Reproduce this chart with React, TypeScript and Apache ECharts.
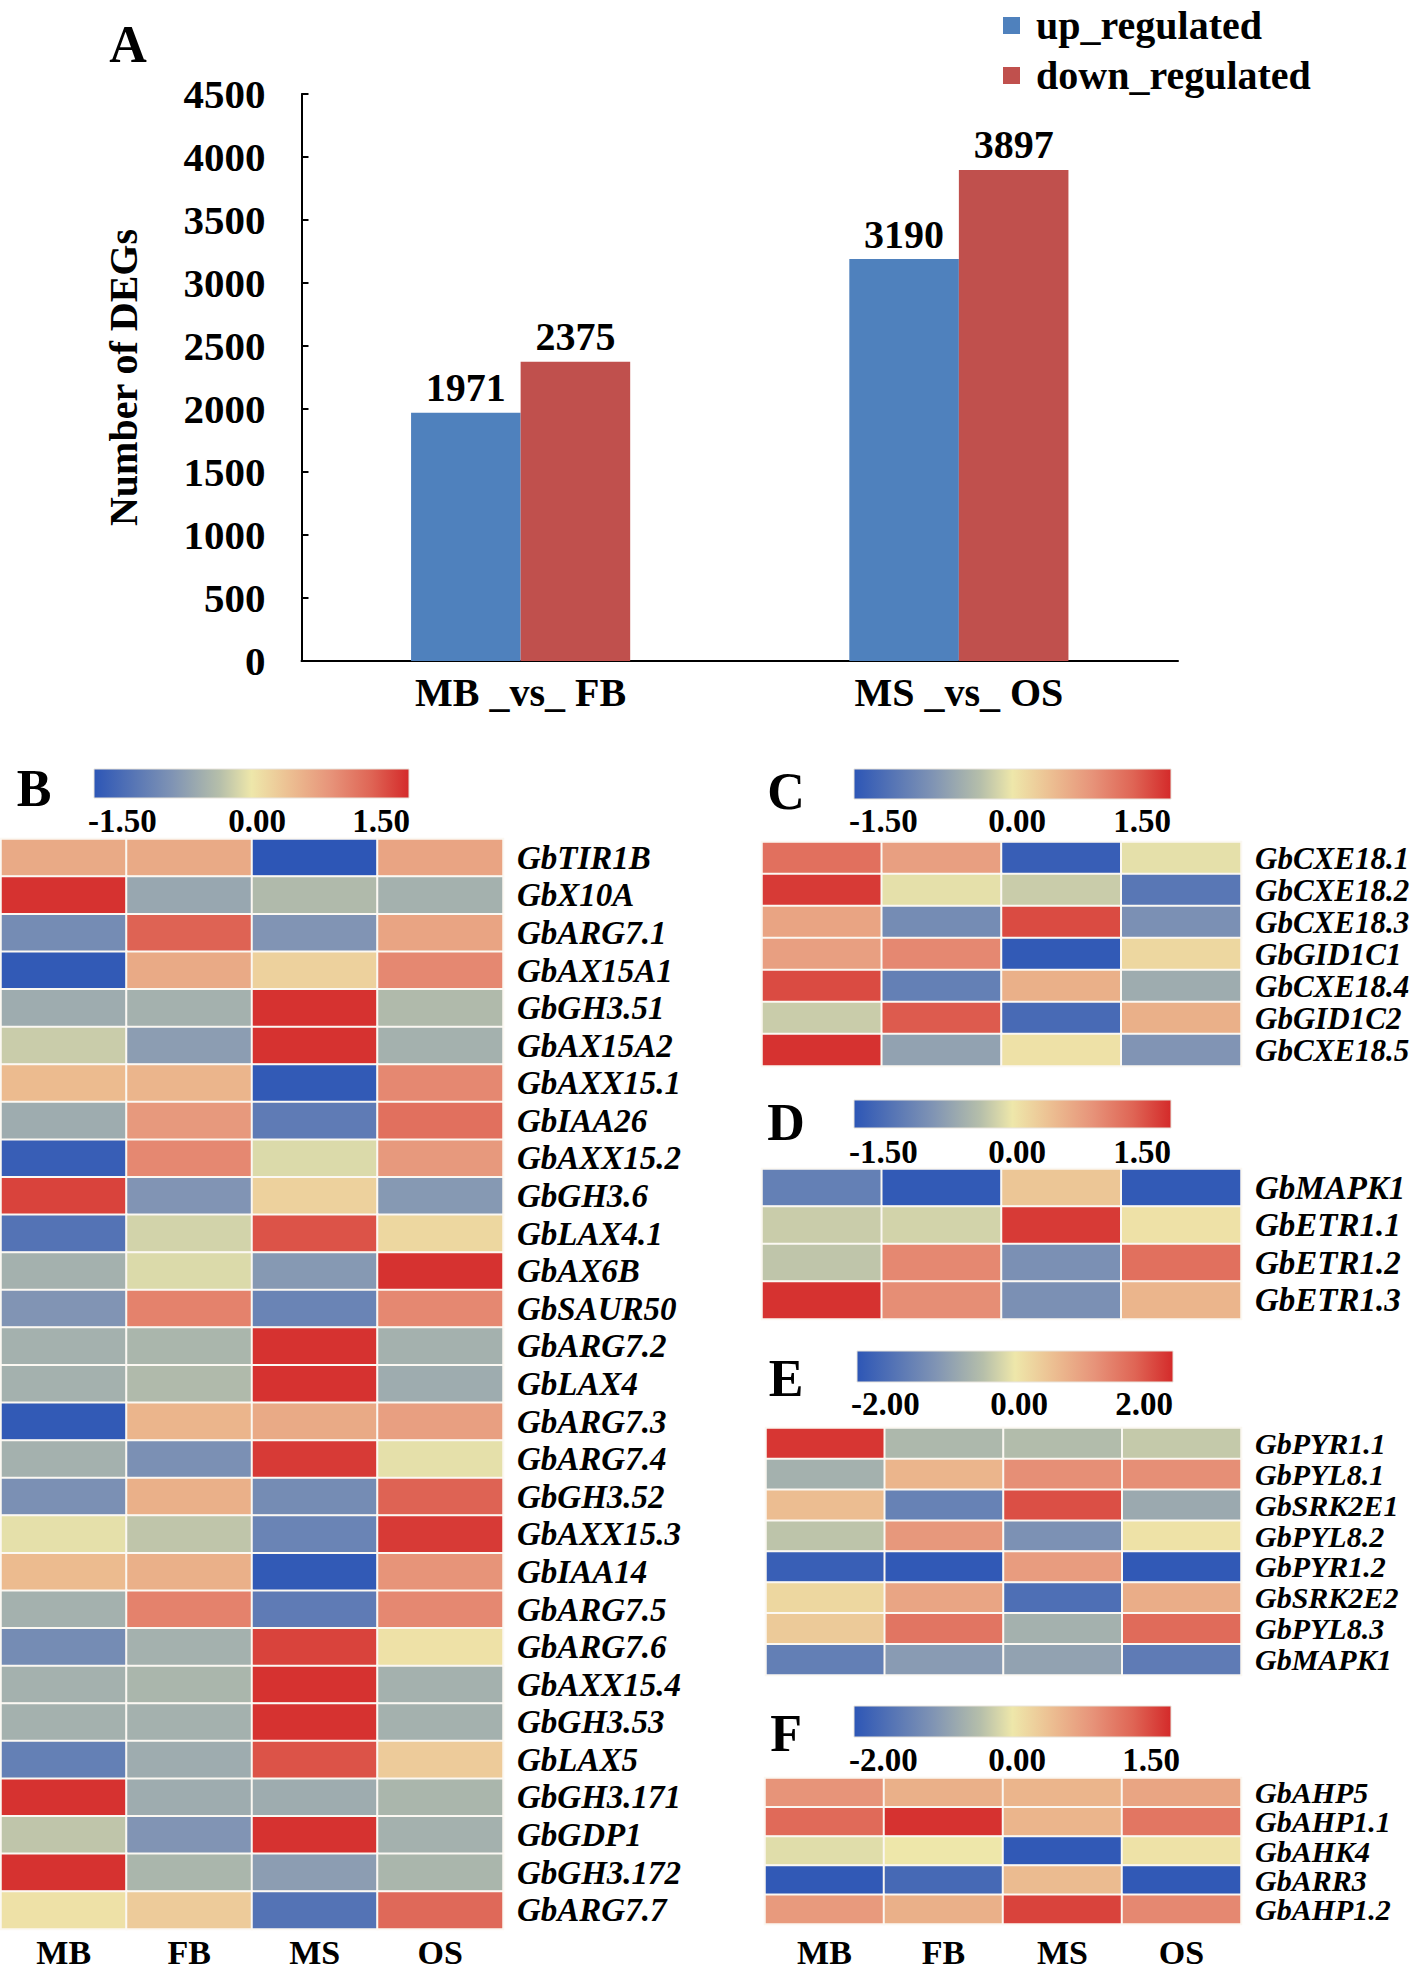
import React, { useEffect, useRef } from 'react';
import * as echarts from 'echarts';

// ---------- Panel A data ----------
const comparisons = ['MB _vs_ FB', 'MS _vs_ OS'];
const upRegulated = [1971, 3190];
const downRegulated = [2375, 3897];
const seriesNames = ['up_regulated', 'down_regulated'];
const seriesColors = ['#4F81BD', '#C0504D'];

// ---------- Heatmap data ----------
const samples = ['MB', 'FB', 'MS', 'OS'];

const genesB = [
  'GbTIR1B', 'GbX10A', 'GbARG7.1', 'GbAX15A1', 'GbGH3.51', 'GbAX15A2', 'GbAXX15.1', 'GbIAA26',
  'GbAXX15.2', 'GbGH3.6', 'GbLAX4.1', 'GbAX6B', 'GbSAUR50', 'GbARG7.2', 'GbLAX4', 'GbARG7.3',
  'GbARG7.4', 'GbGH3.52', 'GbAXX15.3', 'GbIAA14', 'GbARG7.5', 'GbARG7.6', 'GbAXX15.4', 'GbGH3.53',
  'GbLAX5', 'GbGH3.171', 'GbGDP1', 'GbGH3.172', 'GbARG7.7',
];
const valuesB = [
  [0.55, 0.55, -1.5, 0.6],
  [1.45, -0.55, -0.35, -0.45],
  [-0.85, 1.15, -0.75, 0.6],
  [-1.45, 0.55, 0.2, 0.85],
  [-0.5, -0.45, 1.45, -0.35],
  [-0.2, -0.65, 1.45, -0.45],
  [0.4, 0.45, -1.45, 0.85],
  [-0.5, 0.7, -1.05, 1.05],
  [-1.4, 0.85, -0.1, 0.7],
  [1.35, -0.75, 0.2, -0.7],
  [-1.15, -0.15, 1.25, 0.15],
  [-0.45, -0.1, -0.7, 1.45],
  [-0.75, 0.9, -0.95, 0.85],
  [-0.45, -0.4, 1.45, -0.45],
  [-0.45, -0.35, 1.45, -0.5],
  [-1.45, 0.45, 0.55, 0.65],
  [-0.45, -0.8, 1.4, -0.05],
  [-0.8, 0.5, -0.85, 1.15],
  [-0.05, -0.25, -0.95, 1.4],
  [0.4, 0.5, -1.45, 0.75],
  [-0.45, 0.9, -1.05, 0.85],
  [-0.85, -0.45, 1.35, 0.05],
  [-0.45, -0.4, 1.45, -0.45],
  [-0.45, -0.45, 1.45, -0.45],
  [-1.0, -0.5, 1.25, 0.25],
  [1.45, -0.5, -0.5, -0.4],
  [-0.25, -0.75, 1.45, -0.45],
  [1.45, -0.4, -0.65, -0.4],
  [0.05, 0.25, -1.15, 1.1],
];

const genesC = ['GbCXE18.1', 'GbCXE18.2', 'GbCXE18.3', 'GbGID1C1', 'GbCXE18.4', 'GbGID1C2', 'GbCXE18.5'];
const valuesC = [
  [1.05, 0.65, -1.4, -0.05],
  [1.4, -0.05, -0.2, -1.1],
  [0.6, -0.85, 1.3, -0.8],
  [0.65, 0.85, -1.45, 0.15],
  [1.3, -1.0, 0.5, -0.5],
  [-0.2, 1.2, -1.25, 0.5],
  [1.45, -0.6, 0.05, -0.75],
];

const genesD = ['GbMAPK1', 'GbETR1.1', 'GbETR1.2', 'GbETR1.3'];
const valuesD = [
  [-1.0, -1.45, 0.3, -1.45],
  [-0.2, -0.15, 1.4, 0.05],
  [-0.25, 0.85, -0.8, 1.05],
  [1.45, 0.8, -0.8, 0.45],
];

const genesE = ['GbPYR1.1', 'GbPYL8.1', 'GbSRK2E1', 'GbPYL8.2', 'GbPYR1.2', 'GbSRK2E2', 'GbPYL8.3', 'GbMAPK1'];
const valuesE = [
  [1.9, -0.5, -0.45, -0.3],
  [-0.6, 0.6, 1.05, 1.05],
  [0.5, -1.3, 1.7, -0.7],
  [-0.35, 0.95, -1.05, 0.05],
  [-1.85, -1.95, 0.9, -1.95],
  [0.2, 0.8, -1.6, 0.7],
  [0.35, 1.35, -0.6, 1.45],
  [-1.35, -0.9, -0.8, -1.4],
];

const genesF = ['GbAHP5', 'GbAHP1.1', 'GbAHK4', 'GbARR3', 'GbAHP1.2'];
const valuesF = [
  [0.75, 0.5, 0.45, 0.6],
  [1.1, 1.45, 0.45, 1.0],
  [-0.1, 0.0, -1.95, 0.05],
  [-1.95, -1.7, 0.4, -1.95],
  [0.7, 0.5, 1.35, 0.85],
];

// colour-bar tick labels per panel
const ticksB = ['-1.50', '0.00', '1.50'];
const ticksC = ['-1.50', '0.00', '1.50'];
const ticksD = ['-1.50', '0.00', '1.50'];
const ticksE = ['-2.00', '0.00', '2.00'];
const ticksF = ['-2.00', '0.00', '1.50'];

// ---------- colour ramp ----------
const RAMP: [number, string][] = [
  [0.0, '#2D56B6'],
  [0.25, '#8094B4'],
  [0.4, '#B6BFAA'],
  [0.5, '#EEE7AA'],
  [0.62, '#ECBF92'],
  [0.75, '#E7947A'],
  [0.88, '#DF6555'],
  [1.0, '#D42A2A'],
];

function hex2rgb(h: string) {
  return [parseInt(h.slice(1, 3), 16), parseInt(h.slice(3, 5), 16), parseInt(h.slice(5, 7), 16)];
}
function rampAt(t: number) {
  t = Math.max(0, Math.min(1, t));
  for (let i = 0; i < RAMP.length - 1; i++) {
    const [p0, c0] = RAMP[i];
    const [p1, c1] = RAMP[i + 1];
    if (t <= p1) {
      const f = (t - p0) / (p1 - p0);
      const a = hex2rgb(c0);
      const b = hex2rgb(c1);
      const m = a.map((v, k) => Math.round(v + (b[k] - v) * f));
      return `rgb(${m[0]},${m[1]},${m[2]})`;
    }
  }
  return RAMP[RAMP.length - 1][1];
}
function colorsFor(min: number, max: number) {
  const n = 36;
  const out: string[] = [];
  for (let i = 0; i < n; i++) {
    const v = min + ((max - min) * i) / (n - 1);
    const t = v < 0 ? 0.5 * (v - min) / (0 - min) : 0.5 + 0.5 * v / max;
    out.push(rampAt(t));
  }
  return out;
}

const SERIF = '"Liberation Serif", "Times New Roman", serif';

export default function App() {
  const ref = useRef<HTMLDivElement>(null);

  useEffect(() => {
    document.body.style.margin = '0';
    if (!ref.current) return;
    const chart = echarts.init(ref.current, undefined, { renderer: 'svg' });

    const panels = [
      { key: 'B', genes: genesB, values: valuesB, min: -1.5, max: 1.5, grid: { left: 1, top: 839, width: 502, height: 1096 }, showX: true, xMargin: 6, ticks: ticksB, geneFont: 33,
        bar: { x: 94, y: 769, w: 315, h: 29 }, tickY: 821, tickX: [88, 257, 410], letter: [34, 788] },
      { key: 'C', genes: genesC, values: valuesC, min: -1.5, max: 1.5, grid: { left: 762, top: 842, width: 479, height: 224 }, showX: false, xMargin: 4, ticks: ticksC, geneFont: 31,
        bar: { x: 854, y: 769, w: 317, h: 30 }, tickY: 821, tickX: [849, 1017, 1171], letter: [786, 791] },
      { key: 'D', genes: genesD, values: valuesD, min: -1.5, max: 1.5, grid: { left: 762, top: 1169, width: 479, height: 150 }, showX: false, xMargin: 4, ticks: ticksD, geneFont: 33,
        bar: { x: 854, y: 1100, w: 317, h: 28 }, tickY: 1152, tickX: [849, 1017, 1171], letter: [786, 1122] },
      { key: 'E', genes: genesE, values: valuesE, min: -2, max: 2, grid: { left: 766, top: 1428, width: 475, height: 247 }, showX: false, xMargin: 4, ticks: ticksE, geneFont: 30,
        bar: { x: 857, y: 1351, w: 316, h: 31 }, tickY: 1404, tickX: [851, 1019, 1173], letter: [786, 1378] },
      { key: 'F', genes: genesF, values: valuesF, min: -2, max: 1.5, grid: { left: 765, top: 1778, width: 476, height: 152 }, showX: true, xMargin: 11, ticks: ticksF, geneFont: 30,
        bar: { x: 854, y: 1706, w: 317, h: 31 }, tickY: 1760, tickX: [849, 1017, 1180], letter: [786, 1733] },
    ];

    const grids: any[] = [{ left: 301.5, top: 94, width: 876.5, height: 567 }];
    const xAxes: any[] = [
      {
        type: 'category', gridIndex: 0, data: comparisons,
        axisLine: { lineStyle: { color: '#000', width: 2 } },
        axisTick: { inside: true, length: 9, lineStyle: { color: '#000', width: 2 } },
        axisLabel: { color: '#000', fontSize: 40, fontWeight: 'bold', fontFamily: SERIF, margin: 11 },
      },
    ];
    const yAxes: any[] = [
      {
        type: 'value', gridIndex: 0, min: 0, max: 4500, interval: 500,
        name: 'Number of DEGs', nameLocation: 'middle', nameGap: 158,
        nameTextStyle: { color: '#000', fontSize: 40, fontWeight: 'bold', fontFamily: SERIF },
        axisLine: { show: true, lineStyle: { color: '#000', width: 2 } },
        axisTick: { show: true, inside: true, length: 7, lineStyle: { color: '#000', width: 2 } },
        splitLine: { show: false },
        axisLabel: { color: '#000', fontSize: 41, fontWeight: 'bold', fontFamily: SERIF, margin: 36, formatter: (v: number) => String(v) },
      },
    ];
    const barLabel = { show: true, position: 'top', distance: 5, color: '#000', fontSize: 40, fontWeight: 'bold', fontFamily: SERIF };
    const series: any[] = [
      {
        name: seriesNames[0], type: 'bar', xAxisIndex: 0, yAxisIndex: 0, data: upRegulated,
        barGap: '0%', barCategoryGap: '50%', itemStyle: { color: seriesColors[0] }, label: barLabel,
      },
      {
        name: seriesNames[1], type: 'bar', xAxisIndex: 0, yAxisIndex: 0, data: downRegulated,
        barGap: '0%', barCategoryGap: '50%', itemStyle: { color: seriesColors[1] }, label: barLabel,
      },
    ];
    const visualMaps: any[] = [];
    const graphics: any[] = [
      { type: 'text', x: 128, y: 44, style: { text: 'A', fontSize: 52, fontWeight: 'bold', fontFamily: SERIF, fill: '#000', align: 'center', verticalAlign: 'middle' } },
    ];
    // legend (drawn as graphic for exact placement)
    seriesNames.forEach((n, k) => {
      const cy = 25 + k * 50;
      graphics.push({ type: 'rect', shape: { x: 1003, y: cy - 8, width: 17, height: 17 }, style: { fill: seriesColors[k] } });
      graphics.push({ type: 'text', x: 1036, y: cy, style: { text: n, fontSize: 40, fontWeight: 'bold', fontFamily: SERIF, fill: '#000', align: 'left', verticalAlign: 'middle' } });
    });

    const gradStops = RAMP.map(([p, c]) => ({ offset: p, color: c }));

    panels.forEach((p, i) => {
      const gi = i + 1;
      grids.push(p.grid);
      xAxes.push({
        type: 'category', gridIndex: gi, data: samples, position: 'bottom',
        axisLine: { show: false }, axisTick: { show: false }, splitLine: { show: false },
        axisLabel: { show: p.showX, interval: 0, color: '#000', fontSize: 34, fontWeight: 'bold', fontFamily: SERIF, margin: p.xMargin },
      });
      yAxes.push({
        type: 'category', gridIndex: gi, data: p.genes, inverse: true, position: 'right',
        axisLine: { show: false }, axisTick: { show: false }, splitLine: { show: false },
        axisLabel: { interval: 0, color: '#000', fontSize: p.geneFont, fontWeight: 'bold', fontStyle: 'italic', fontFamily: SERIF, margin: 14, align: 'left' },
      });
      const data: number[][] = [];
      p.values.forEach((row, r) => row.forEach((v, c) => data.push([c, r, v])));
      const si = series.length;
      series.push({
        name: 'heat' + p.key, type: 'heatmap', xAxisIndex: gi, yAxisIndex: gi, data,
        itemStyle: { borderColor: '#FBF8F2', borderWidth: 2 },
        emphasis: { disabled: true },
      });
      visualMaps.push({
        type: 'continuous', show: false, seriesIndex: si, dimension: 2,
        min: p.min, max: p.max, inRange: { color: colorsFor(p.min, p.max) },
      });
      graphics.push({
        type: 'rect', shape: { x: p.bar.x, y: p.bar.y, width: p.bar.w, height: p.bar.h },
        style: { fill: new echarts.graphic.LinearGradient(0, 0, 1, 0, gradStops), stroke: '#E8E4DC', lineWidth: 1 },
      });
      const aligns = ['left', 'center', 'right'];
      p.ticks.forEach((t, k) => {
        graphics.push({
          type: 'text', x: p.tickX[k], y: p.tickY,
          style: { text: t, fontSize: 33, fontWeight: 'bold', fontFamily: SERIF, fill: '#000', align: aligns[k], verticalAlign: 'middle' },
        });
      });
      graphics.push({
        type: 'text', x: p.letter[0], y: p.letter[1],
        style: { text: p.key, fontSize: 52, fontWeight: 'bold', fontFamily: SERIF, fill: '#000', align: 'center', verticalAlign: 'middle' },
      });
    });

    chart.setOption({
      animation: false,
      backgroundColor: '#fff',
      textStyle: { fontFamily: SERIF },
      grid: grids,
      xAxis: xAxes,
      yAxis: yAxes,
      visualMap: visualMaps,
      series,
      graphic: graphics,
    });

    return () => chart.dispose();
  }, []);

  return <div ref={ref} style={{ width: 1418, height: 1969 }} />;
}
